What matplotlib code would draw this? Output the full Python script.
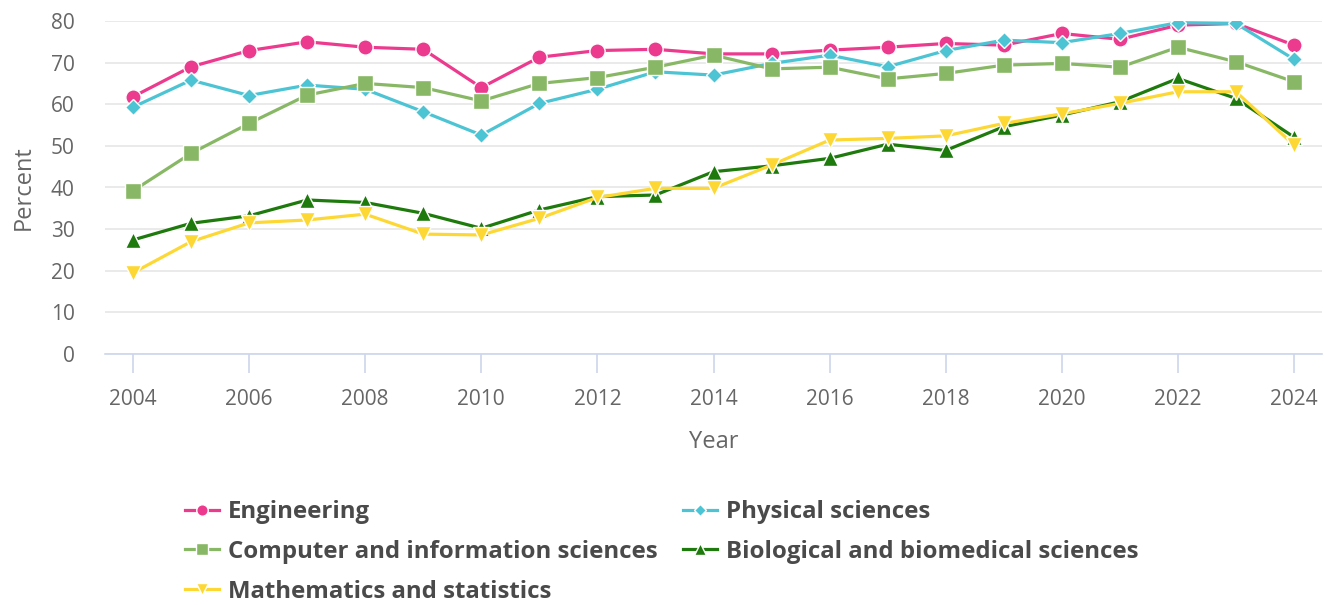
import matplotlib
matplotlib.use("Agg")
import matplotlib.pyplot as plt

years = list(range(2004, 2025))
engineering = [61.8, 69.0, 72.9, 75.0, 73.7, 73.2, 64.0, 71.3, 72.9, 73.2, 72.1, 72.1, 73.0, 73.7,
               74.6, 74.2, 77.0, 75.6, 79.0, 79.4, 74.2]
physical = [59.3, 65.8, 62.1, 64.6, 63.6, 58.2, 52.6, 60.2, 63.6, 67.8, 67.0, 69.8, 71.8, 69.0,
            72.9, 75.4, 74.8, 77.0, 79.6, 79.4, 70.8]
computer = [39.2, 48.2, 55.4, 62.2, 65.0, 64.0, 60.8, 65.0, 66.4, 68.9, 71.8, 68.5, 68.9, 66.1,
            67.4, 69.4, 69.8, 68.9, 73.7, 70.2, 65.4]
biological = [27.4, 31.4, 33.2, 37.0, 36.4, 33.8, 30.2, 34.6, 37.8, 38.2, 43.8, 45.2, 47.0, 50.4,
              48.9, 54.6, 57.4, 60.6, 66.2, 61.4, 52.1]
mathematics = [19.5, 27.0, 31.5, 32.2, 33.6, 28.8, 28.6, 32.6, 37.6, 39.8, 39.8, 45.4, 51.4, 51.8,
               52.4, 55.4, 57.7, 60.2, 63.0, 63.0, 50.2]

series = [
    ("Engineering", engineering, "#EC3A8E", "o", 11),
    ("Physical sciences", physical, "#4DC4D4", "D", 8.5),
    ("Computer and information sciences", computer, "#88B865", "s", 11),
    ("Biological and biomedical sciences", biological, "#1E7A0C", "^", 11),
    ("Mathematics and statistics", mathematics, "#FDD835", "v", 11),
]
y_ticks = [0, 10, 20, 30, 40, 50, 60, 70, 80]
x_ticks = list(range(2004, 2025, 2))

plt.rcParams['font.family'] = ['Open Sans', 'DejaVu Sans']
fig = plt.figure(figsize=(13.24, 6.05), dpi=100)
ax = fig.add_axes([105/1324, 1-354/605, 1217/1324, 333/605])

handles = {}
for name, vals, color, marker, ms in series:
    h, = ax.plot(years, vals, color=color, lw=2.3, marker=marker, markersize=ms,
                 markeredgecolor="white", markeredgewidth=1.0, label=name, zorder=3)
    handles[name] = h

ax.set_xlim(2004 - 28/58.05, 2024 + 28/58.05)
ax.set_ylim(0, 80)
ax.set_yticks(y_ticks)
ax.set_xticks(x_ticks)
ax.grid(axis="y", color="#e6e6e6", lw=1.2)
ax.set_axisbelow(True)
for s in ["top", "right", "left"]:
    ax.spines[s].set_visible(False)
ax.spines["bottom"].set_color("#ccd6eb")
ax.spines["bottom"].set_linewidth(1.2)
ax.tick_params(axis="y", length=0, labelsize=15, labelcolor="#666666", pad=22)
ax.tick_params(axis="x", length=13.5, width=1.2, color="#ccd6eb", labelsize=15,
               labelcolor="#666666", pad=12)
ax.set_xlabel("Year", fontsize=17, color="#666666", labelpad=14)
ax.set_ylabel("Percent", fontsize=17, color="#666666", labelpad=11)

order = ["Engineering", "Computer and information sciences", "Mathematics and statistics",
         "Physical sciences", "Biological and biomedical sciences"]
leg = fig.legend([handles[n] for n in order], order, loc="upper left",
                 bbox_to_anchor=(185/1324, 1-500/605), ncol=2, frameon=False,
                 fontsize=17.3, handlelength=1.4, handletextpad=0.4, columnspacing=1.05,
                 labelspacing=0.66, borderpad=0, borderaxespad=0, markerscale=0.75)
for t in leg.get_texts():
    t.set_fontweight("bold")
    t.set_color("#4a4a4a")

fig.savefig("out.png", dpi=100)
